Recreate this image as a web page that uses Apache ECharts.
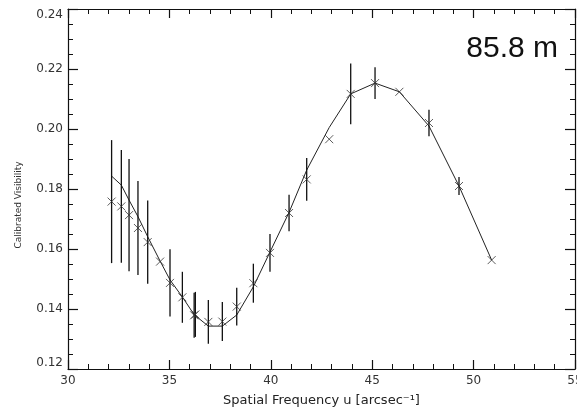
<!DOCTYPE html>
<html>
<head>
<meta charset="utf-8">
<script src="https://cdn.jsdelivr.net/npm/echarts@6.0.0/dist/echarts.min.js"></script>
<style>
  html, body { margin: 0; padding: 0; background: #fff; }
  #chart { width: 577px; height: 410px; }
</style>
</head>
<body>
<div id="chart"></div>
<script>
// Spatial frequency of each measurement [arcsec^-1]
const freq = [32.15, 32.63, 33.01, 33.45, 33.93, 34.54, 35.03, 35.64, 36.22, 36.28,
              36.92, 37.61, 38.32, 39.14, 39.96, 40.90, 41.77, 42.88, 43.94, 45.14,
              46.34, 47.80, 49.28, 50.89];
// Calibrated visibility measured at each frequency
const visibility = [0.1758, 0.1742, 0.1713, 0.1670, 0.1623, 0.1558, 0.1487, 0.1439, 0.1379, 0.1382,
                    0.1357, 0.1358, 0.1408, 0.1486, 0.1587, 0.1720, 0.1832, 0.1966, 0.2117, 0.2153,
                    0.2124, 0.2020, 0.1810, 0.1563];
// One-sigma uncertainty (0 = no bar drawn)
const visError = [0.0205, 0.0188, 0.0187, 0.0157, 0.0139, 0, 0.0112, 0.0085, 0.0075, 0.0075,
                  0.0073, 0.0065, 0.0063, 0.0065, 0.0063, 0.0061, 0.0071, 0, 0.0101, 0.0053,
                  0, 0.0044, 0.0030, 0];
// Model visibility curve evaluated at the same frequencies
const modelVis = [0.1843, 0.1813, 0.1763, 0.1708, 0.1641, 0.1560, 0.1497, 0.1440, 0.1381, 0.1378,
                  0.1343, 0.1343, 0.1380, 0.1474, 0.1590, 0.1722, 0.1863, 0.2005, 0.2117, 0.2153,
                  0.2124, 0.2010, 0.1810, 0.1563];

const xTicks = { min: 30, max: 55, step: 5 };
const yTicks = { min: 0.12, max: 0.24, step: 0.02 };
const baselineLabel = '85.8 m';

const points = freq.map((f, i) => [f, visibility[i]]);
const model = freq.map((f, i) => [f, modelVis[i]]);
const bars = [];
freq.forEach((f, i) => {
  if (visError[i] > 0) bars.push([f, visibility[i] - visError[i], visibility[i] + visError[i]]);
});

const ink = '#111';
const tickFont = { fontFamily: 'DejaVu Sans', fontSize: 12, color: '#333' };

function xAxisDef(pos, showLabels) {
  return {
    type: 'value', position: pos,
    min: xTicks.min, max: xTicks.max, interval: xTicks.step,
    axisLine: { show: true, onZero: false, lineStyle: { color: ink, width: 1.2 } },
    axisTick: { show: true, inside: true, length: 9, lineStyle: { color: ink, width: 1.2 } },
    minorTick: { show: true, splitNumber: 5, length: 5, lineStyle: { color: ink, width: 1 } },
    splitLine: { show: false },
    minorSplitLine: { show: false },
    axisLabel: Object.assign({
      show: showLabels, margin: 6,
      alignMinLabel: 'center', alignMaxLabel: 'center', hideOverlap: false
    }, tickFont),
    name: showLabels ? 'Spatial Frequency u [arcsec⁻¹]' : '',
    nameLocation: 'middle', nameGap: 25,
    nameTextStyle: { fontFamily: 'DejaVu Sans', fontSize: 13, color: '#222' }
  };
}
function yAxisDef(pos, showLabels) {
  return {
    type: 'value', position: pos,
    min: yTicks.min, max: yTicks.max, interval: yTicks.step,
    axisLine: { show: true, onZero: false, lineStyle: { color: ink, width: 1.2 } },
    axisTick: { show: true, inside: true, length: 10, lineStyle: { color: ink, width: 1.2 } },
    minorTick: { show: true, splitNumber: 4, length: 5, lineStyle: { color: ink, width: 1 } },
    splitLine: { show: false },
    minorSplitLine: { show: false },
    axisLabel: Object.assign({
      show: showLabels, margin: 5,
      formatter: v => v.toFixed(2),
      verticalAlignMaxLabel: 'top',
      verticalAlignMinLabel: 'bottom'
    }, tickFont)
  };
}

const chart = echarts.init(document.getElementById('chart'), null, { renderer: 'canvas' });
chart.setOption({
  backgroundColor: '#fff',
  animation: false,
  grid: { left: 68, right: 2, top: 9, bottom: 41, containLabel: false, outerBoundsMode: 'none' },
  xAxis: [xAxisDef('bottom', true), xAxisDef('top', false)],
  yAxis: [yAxisDef('left', true), yAxisDef('right', false)],
  graphic: [
    {
      type: 'text', x: 19, y: 205, rotation: Math.PI / 2,
      style: {
        text: 'Calibrated Visibility', fontFamily: 'DejaVu Sans', fontSize: 9,
        fill: '#333', align: 'center', verticalAlign: 'middle'
      }
    },
    {
      type: 'text', x: 558, y: 49,
      style: {
        text: baselineLabel, fontFamily: 'Liberation Sans', fontSize: 30,
        fill: '#111', align: 'right', verticalAlign: 'middle'
      }
    }
  ],
  series: [
    {
      type: 'line', data: model, xAxisIndex: 0, yAxisIndex: 0,
      showSymbol: false, smooth: false,
      lineStyle: { color: '#222', width: 1 }, z: 2
    },
    {
      type: 'custom', data: bars, xAxisIndex: 0, yAxisIndex: 0,
      encode: { x: 0, y: [1, 2] },
      renderItem: function (params, api) {
        const a = api.coord([api.value(0), api.value(1)]);
        const b = api.coord([api.value(0), api.value(2)]);
        return {
          type: 'line',
          shape: { x1: a[0], y1: a[1], x2: b[0], y2: b[1] },
          style: { stroke: ink, lineWidth: 1.3 }
        };
      },
      z: 3
    },
    {
      type: 'scatter', data: points, xAxisIndex: 0, yAxisIndex: 0,
      symbol: 'path://M0,0L10,10M10,0L0,10', symbolSize: 8,
      itemStyle: { color: 'rgba(0,0,0,0)', borderColor: '#333', borderWidth: 1 },
      z: 4
    }
  ]
});
</script>
</body>
</html>
